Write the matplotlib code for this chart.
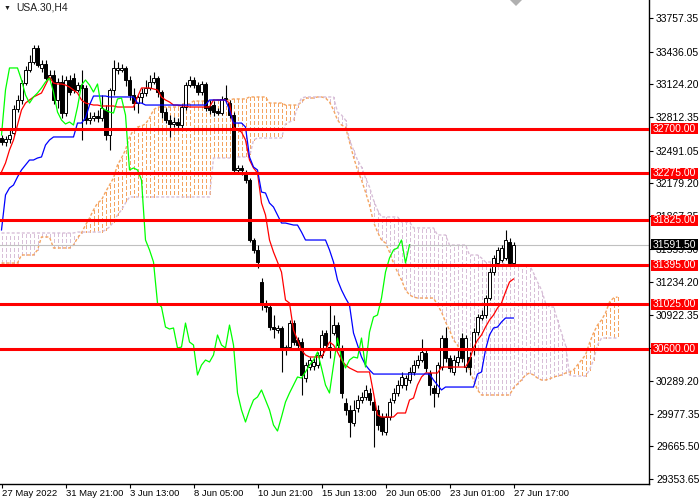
import numpy as np
import matplotlib
matplotlib.use("Agg")
import matplotlib.pyplot as plt
from matplotlib.patches import Rectangle, Polygon
from matplotlib.collections import LineCollection
import matplotlib.transforms as mtransforms

plt.rcParams['font.family'] = ['Liberation Sans', 'DejaVu Sans']

symbol = "USA.30,H4"

open_ = [32611, 32573, 32602, 32659, 32888, 32974, 33136, 33261, 33337, 33471,
         33280, 33318, 33184, 33213, 32974, 33146, 32850, 33165, 33184, 33070,
         33117, 33089, 32783, 32802, 32821, 32802, 32879, 32640, 33070, 33261,
         33261, 33280, 33165, 33022, 32945, 33003, 33041, 33089, 33146, 33184,
         33050, 32859, 32783, 32745, 32764, 32735, 32907, 33117, 33165, 33117,
         33050, 33127, 32917, 32926, 32869, 32850, 32984, 32945, 32831, 32306,
         32325, 32277, 32210, 31637, 31542, 31236, 31035, 30997, 30806, 30778,
         30797, 30587, 30615, 30844, 30682, 30663, 30319, 30424, 30434, 30443,
         30539, 30749, 30615, 30749, 30825, 30606, 30080, 30014, 29889, 30033,
         30109, 30138, 30176, 30090, 30014, 29947, 29803, 29947, 30109, 30176,
         30252, 30252, 30300, 30377, 30443, 30491, 30558, 30367, 30224, 30176,
         30424, 30701, 30510, 30377, 30472, 30701, 30424, 30520, 30587, 30758,
         30892, 30921, 31083, 31331, 31417, 31446, 31465, 31618, 31417]
close = [32573, 32602, 32640, 32888, 32974, 33136, 33261, 33337, 33471, 33308,
         33318, 33184, 33213, 32974, 33146, 32850, 33165, 33050, 33070, 33117,
         33089, 32783, 32802, 32821, 32802, 32898, 32640, 33070, 33280, 33280,
         33280, 33165, 33022, 32945, 33003, 33041, 33089, 33146, 33184, 33050,
         32859, 32783, 32745, 32764, 32735, 32907, 33117, 33165, 33117, 33050,
         33127, 32898, 32879, 32859, 32850, 32984, 32993, 32831, 32306, 32325,
         32306, 32210, 31637, 31542, 31427, 31035, 30997, 30806, 30787, 30797,
         30606, 30615, 30844, 30663, 30634, 30348, 30443, 30491, 30472, 30539,
         30730, 30634, 30606, 30825, 30634, 30176, 30014, 29899, 30014, 30109,
         30138, 30205, 30109, 30014, 29870, 29813, 29947, 30090, 30176, 30252,
         30329, 30319, 30377, 30443, 30491, 30567, 30415, 30252, 30176, 30443,
         30701, 30510, 30415, 30491, 30520, 30510, 30701, 30424, 30758, 30902,
         30921, 31083, 31331, 31465, 31542, 31561, 31637, 31417, 31591.5]
high = [32640, 32630, 32707, 32926, 33022, 33165, 33299, 33404, 33499, 33499,
        33356, 33356, 33261, 33261, 33184, 33213, 33203, 33213, 33232, 33146,
        33261, 33117, 32859, 32859, 32879, 33022, 32926, 33089, 33356, 33337,
        33318, 33299, 33203, 33089, 33022, 33089, 33165, 33213, 33241, 33203,
        33070, 32898, 32831, 32812, 32802, 32936, 33146, 33203, 33194, 33146,
        33155, 33146, 32974, 32964, 32898, 33012, 33117, 32974, 32859, 32353,
        32353, 32306, 32229, 31656, 31589, 31274, 31064, 31016, 30921, 30825,
        30816, 30634, 30873, 30873, 30711, 30701, 30472, 30520, 30510, 30567,
        30778, 30778, 31016, 30921, 30854, 30634, 30128, 30061, 30109, 30157,
        30186, 30252, 30224, 30128, 30061, 29985, 29985, 30128, 30224, 30300,
        30377, 30348, 30424, 30491, 30539, 30692, 30587, 30396, 30252, 30472,
        30730, 30806, 30539, 30539, 30587, 30749, 30730, 30567, 30797, 30930,
        30969, 31112, 31370, 31494, 31570, 31589, 31733, 31656, 31618]
low = [32544, 32535, 32563, 32640, 32859, 32936, 33117, 33241, 33318, 33289,
       33241, 33165, 33165, 32936, 32898, 32802, 32821, 33022, 33041, 33050,
       32592, 32745, 32745, 32773, 32764, 32773, 32592, 32497, 33022, 33222,
       33241, 33108, 32974, 32879, 32850, 32945, 33012, 33070, 33127, 33003,
       32802, 32754, 32621, 32716, 32707, 32707, 32879, 33098, 33089, 33022,
       33022, 32869, 32840, 32821, 32831, 32831, 32955, 32802, 32277, 32267,
       32258, 32181, 31618, 31513, 31370, 30969, 30950, 30778, 30701, 30749,
       30377, 30539, 30587, 30634, 30587, 30157, 30281, 30396, 30396, 30415,
       30510, 30587, 30510, 30730, 30587, 30128, 29966, 29756, 29861, 29995,
       30080, 30109, 30061, 29660, 29823, 29775, 29775, 29918, 30080, 30147,
       30224, 30205, 30271, 30348, 30415, 30472, 30377, 30157, 30042, 30138,
       30396, 30472, 30377, 30348, 30434, 30472, 30377, 30348, 30539, 30730,
       30873, 30892, 31064, 31303, 31398, 31427, 31446, 31398, 31398]

# ichimoku lines
tenkan = [32287, 32372, 32497, 32592, 32735, 32879, 32945, 32974, 33003, 33022,
          33041, 33117, 33194, 33136, 33127, 33127, 33117, 33098, 33070, 33041,
          32974, 32945, 32936,
          32926, 32926, 32917, 32917, 32917, 32917, 32907, 32907, 32907, 32907, 32907,
          33003, 33089, 33089, 33089, 33079, 33070,
          33003, 32974, 32955,
          32926, 32926, 32917, 32917, 32907, 32907, 32907, 32907, 32907, 32907,
          32974, 32974, 32974, 32974, 32945,
          32716, 32688, 32668, 32592, 32401, 32325, 32277, 31990, 31876, 31637,
          31522, 31427, 31331, 31064, 31035, 30778, 30682, 30587, 30539,
          30520, 30520, 30520, 30520,
          30587, 30663, 30634, 30567, 30491, 30443, 30415, 30396,
          30377, 30377, 30377, 30377, 30176, 29966,
          29947, 29947, 29947, 29947, 29985, 29985, 29985,
          30109, 30128, 30252, 30329, 30367, 30367, 30367, 30367,
          30424, 30424, 30424, 30424, 30424, 30424, 30424,
          30491, 30606, 30682, 30730, 30806, 30873, 30921, 30988, 31035, 31140,
          31236, 31265]
kijun = [31733, 32067, 32134, 32162, 32239, 32306, 32353, 32401, 32401, 32420,
         32430, 32544, 32592, 32621, 32621, 32621, 32621, 32621, 32621,
         32754, 32754, 32802, 32926, 33012, 33012, 33012, 33012,
         33003, 33003, 33003, 33003, 33003, 33003, 33003, 32945, 32945,
         32926, 32926, 32926, 32926, 32926, 32926, 32926, 32926,
         32926, 32926, 32926, 32926, 32926, 32926, 32926, 32926,
         32974, 32974, 32974, 32974, 32974, 32879, 32754, 32754, 32754,
         32716, 32430, 32334, 32306, 32095, 32086, 31990, 31952, 31876,
         31799, 31799, 31790, 31780, 31780, 31713,
         31637, 31637, 31637, 31637, 31637, 31637,
         31542, 31427, 31255, 31160, 31083, 31016, 30749, 30634, 30520, 30443, 30396,
         30357, 30357, 30357, 30357, 30357, 30357, 30357, 30357,
         30357, 30357, 30357, 30357, 30357, 30357, 30357,
         30300, 30252, 30205,
         30233, 30233, 30233, 30233, 30233, 30233, 30233, 30233,
         30357, 30377, 30587, 30730, 30797, 30806, 30854, 30892, 30892, 30892]
span_a = [31417, 31417, 31417, 31417, 31417, 31494, 31494, 31494, 31494, 31542,
          31666, 31666, 31666, 31561, 31561, 31561, 31561, 31561, 31589, 31656,
          31704, 31780, 31847, 31924, 31990, 32019, 32095, 32162, 32229, 32353,
          32420, 32497, 32621, 32688, 32716, 32726, 32745, 32802, 32879,
          32907, 32907, 32907, 32907, 32907, 32907, 32936, 32936, 32936,
          32964, 32964, 32964, 32964, 32964, 32974, 32974, 32974, 32974, 32974,
          32984, 32984, 32984, 32984, 33003, 33003, 33003, 33003, 33003,
          32945, 32945, 32945, 32945, 32926, 32926, 32926, 32926, 32955,
          32993, 32993, 32993, 33003, 33003, 32993, 32955, 32879, 32783, 32735,
          32716, 32573, 32430, 32306, 32210, 32095, 31971, 31809, 31713, 31637,
          31608, 31522, 31417, 31331, 31255, 31160, 31112, 31093,
          31083, 31083, 31083, 31083, 31083, 31016, 30950, 30854, 30778, 30682,
          30634, 30539, 30472, 30396, 30300, 30205,
          30157, 30157, 30157, 30157, 30157, 30157, 30157, 30157,
          30224, 30262, 30300, 30348, 30367, 30348, 30319, 30300, 30300, 30310,
          30329, 30338, 30348, 30367, 30377, 30396, 30443, 30491, 30539, 30653,
          30749, 30825, 30873, 30940, 31045, 31083, 31093]
span_b = [31704] * 19 + [31713] * 7 + [31733, 31761, 31809, 31876, 31924, 31990] \
    + [32048] * 21 + [32420] * 6 + [32430] * 4 + [32592] + [32611] * 7 \
    + [32745, 32764, 32783, 32907, 32993] + [33003] * 8 \
    + [32859, 32831, 32783, 32592, 32497, 32401, 32334, 32229, 32143, 32019, 31924] \
    + [31857] * 5 + [31809] * 3 + [31752] * 6 + [31685] * 3 + [31589] * 5 \
    + [31494] * 3 + [31465] + [31427] * 5 + [31398] * 7 \
    + [31322, 31236, 31160, 31035, 30997, 30997, 30873, 30749, 30634] \
    + [30348] + [30338] * 4 + [30396, 30491, 30634] + [30701] * 5
chikou_shift = 26

levels = [32700, 32275, 31825, 31395, 31025, 30600]
last_price = 31591.50

price_ticks = [33757.35, 33436.05, 33124.20, 32812.35, 32491.05, 32179.20,
               31867.35, 31555.50, 31234.20, 30922.35, 30610.50, 30289.20,
               29977.35, 29665.50, 29353.65]
date_pos = [0, 16, 32, 48, 64, 80, 96, 112, 128]
date_labels = ["27 May 2022", "31 May 21:00", "3 Jun 13:00", "8 Jun 05:00",
               "10 Jun 21:00", "15 Jun 13:00", "20 Jun 05:00", "23 Jun 01:00",
               "27 Jun 17:00"]

SANDY = '#F4A460'
THISTLE = '#D8BFD8'

fig = plt.figure(figsize=(7, 5), dpi=100)
ax = fig.add_axes([0, 16 / 500, 649 / 700, 484 / 500])
ax.set_xlim(-0.375, 161.875)
ax.set_ylim(29307, 33929)

dots = (0, (3, 2))

# kumo
a = np.array(span_a, dtype=float)
b = np.array(span_b, dtype=float)
m = min(len(a), len(b))
a, b = a[:m], b[:m]
xc = np.arange(m)
segs = [[(i, a[i]), (i, b[i])] for i in range(m)]
cols = [SANDY if a[i] >= b[i] else THISTLE for i in range(m)]
kumo = LineCollection(segs, colors=cols, linewidths=1.0, linestyles=[(0, (2.2, 1.45))],
                      antialiaseds=False, zorder=1)
ax.add_collection(kumo)
ax.plot(xc, a, color=SANDY, lw=1.0, ls=(0, (2.2, 1.45)), zorder=1.1)
ax.plot(xc, b, color=THISTLE, lw=1.0, ls=(0, (2.2, 1.45)), zorder=1.1)

ax.axhline(last_price, color='#C0C0C0', lw=0.8, zorder=1.5)

# candles
n = min(len(open_), len(high), len(low), len(close))
o = np.array(open_[:n], dtype=float)
c = np.array(close[:n], dtype=float)
h = np.array(high[:n], dtype=float)
l = np.array(low[:n], dtype=float)
x = np.arange(n)
ax.vlines(x, l, h, color='black', lw=0.8, zorder=2)
bull = c >= o
ax.bar(x[bull], np.maximum(c - o, 1)[bull], bottom=o[bull], width=0.55,
       color='white', edgecolor='black', lw=0.7, zorder=2.1)
ax.bar(x[~bull], (o - c)[~bull], bottom=c[~bull], width=0.55,
       color='black', edgecolor='black', lw=0.7, zorder=2.1)

ax.plot(np.arange(len(tenkan)), tenkan, color='red', lw=0.9, zorder=3)
ax.plot(np.arange(len(kijun)), kijun, color='blue', lw=0.9, zorder=3)
ax.plot(x[chikou_shift:] - chikou_shift, c[chikou_shift:], color='#00FF00', lw=0.9, zorder=3)

for lv in levels:
    ax.axhline(lv, color='red', lw=2.2, zorder=4)

# price boxes on the right scale
trans = mtransforms.blended_transform_factory(ax.transAxes, ax.transData)
box_h = 11 * (33929 - 29307) / 484
def price_box(val, fc):
    ax.add_patch(Rectangle((1 + 2 / 649, val - box_h / 2), 47 / 649, box_h,
                           transform=trans, fc=fc, ec='none', clip_on=False, zorder=6))
    ax.text(1 + 25.5 / 649, val, f"{val:.2f}", transform=trans, color='white',
            fontsize=7.5, ha='center', va='center', clip_on=False, zorder=7)

for lv in levels:
    price_box(lv, 'red')
price_box(last_price, 'black')

ax.yaxis.tick_right()
ax.set_yticks(price_ticks)
ax.set_yticklabels([f"{v:.2f}" for v in price_ticks])
ax.tick_params(axis='y', length=3, width=0.8, pad=2, labelsize=7.5, colors='black')
ax.set_xticks(date_pos)
ax.set_xticklabels(date_labels)
for t in ax.get_xticklabels():
    t.set_ha('left')
ax.tick_params(axis='x', length=3, width=0.8, pad=0.5, labelsize=6.8)

for s in ['top', 'left']:
    ax.spines[s].set_visible(False)
for s in ['right', 'bottom']:
    ax.spines[s].set_linewidth(1)
    ax.spines[s].set_color('black')

fig.text(4 / 700, 1 - 8 / 500, "\u25bc", fontsize=5, va='center', ha='left', color='#202020')
fig.text(16 / 700, 1 - 8 / 500, symbol, fontsize=7.5, va='center', ha='left', color='#202020')
fig.patches.append(Polygon([(510 / 700, 1), (522 / 700, 1), (516 / 700, 1 - 6 / 500)],
                           closed=True, transform=fig.transFigure, fc='#B0B0B0', ec='none'))

fig.savefig("out.png", dpi=100)
